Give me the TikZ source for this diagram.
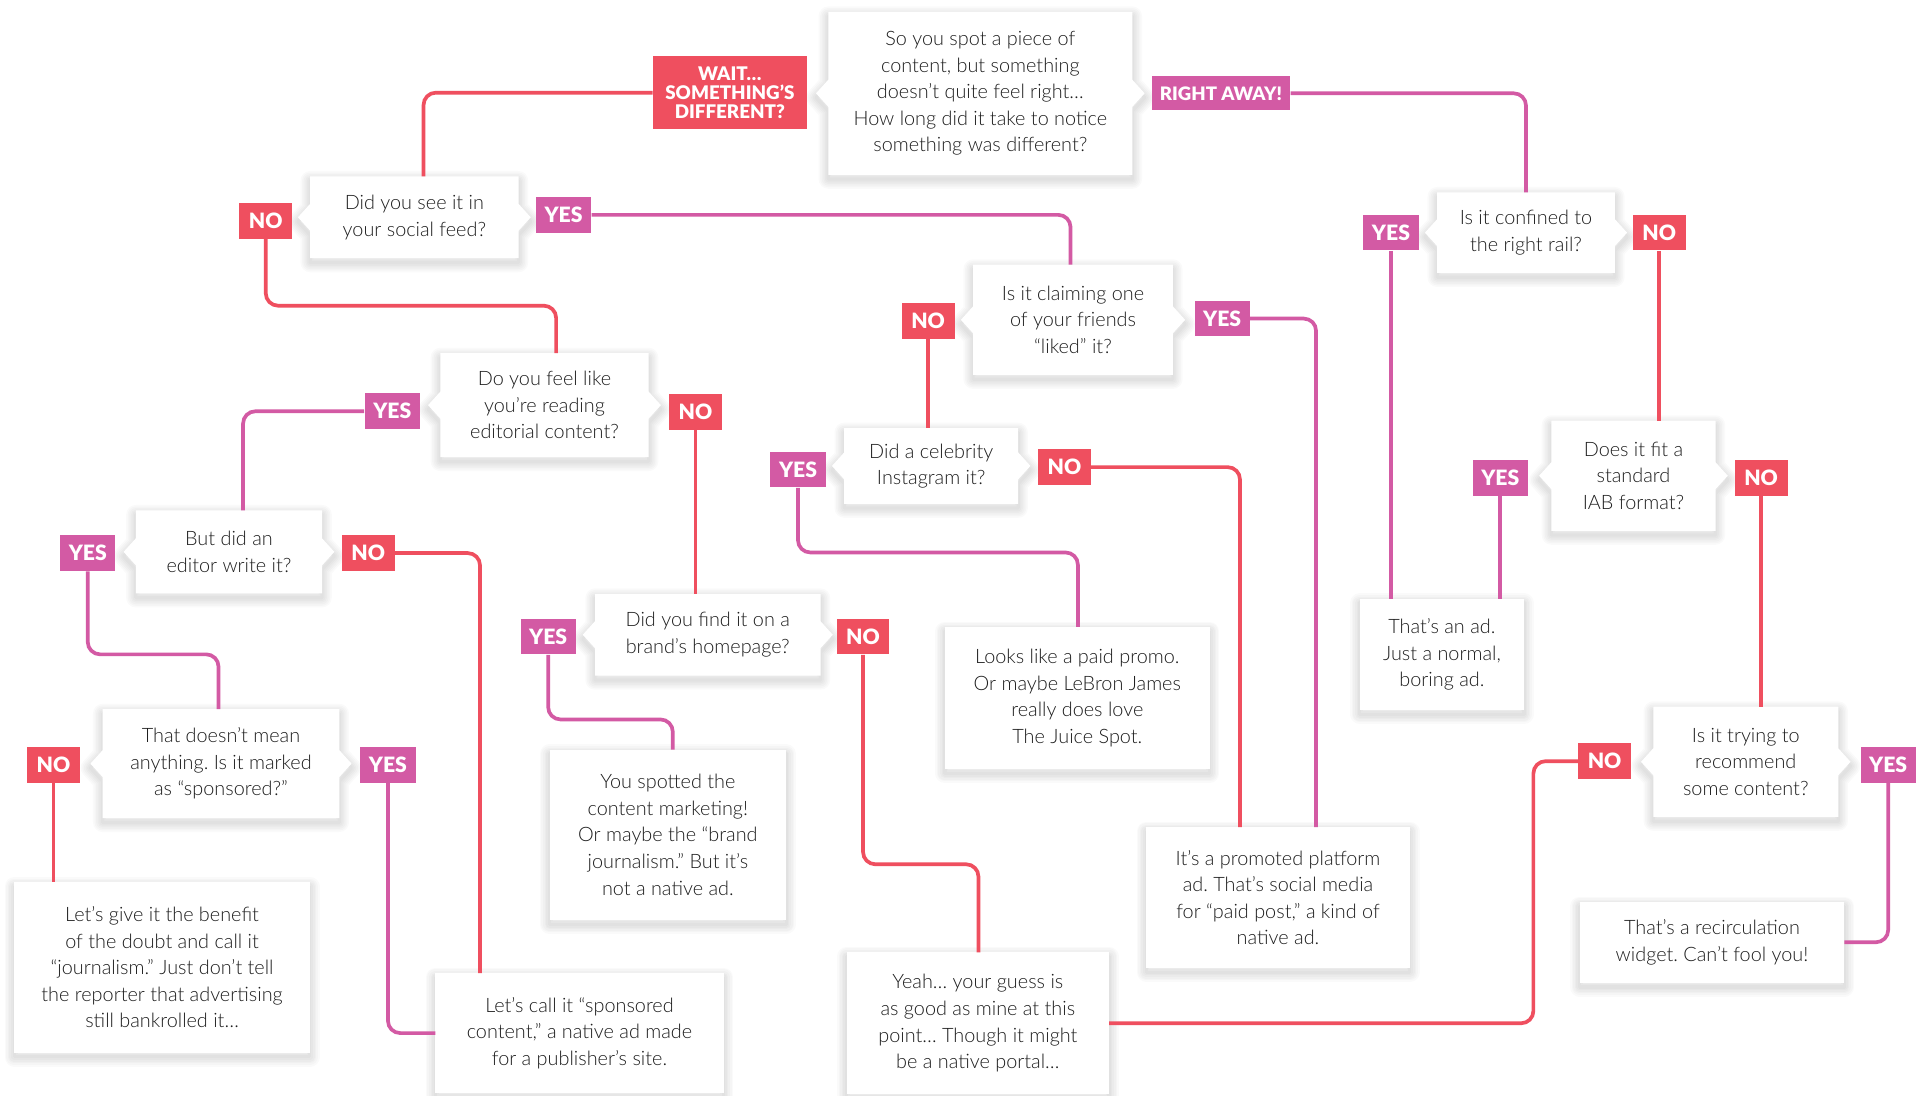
\documentclass[tikz,border=0pt]{standalone}
\usepackage{fontspec}
\IfFontExistsTF{Lato Light}{\setmainfont{Lato Light}}{\setmainfont{Lato}}
\IfFontExistsTF{Lato Black}{\newfontfamily\labfontA{Lato Black}\newcommand\labfont{\labfontA}}{\newfontfamily\labfontA{Lato}\newcommand\labfont{\labfontA\bfseries}}
\usetikzlibrary{calc}
\frenchspacing
\definecolor{nored}{HTML}{EF4F5F}
\definecolor{yesmag}{HTML}{D35AA4}
\definecolor{txt}{HTML}{1E1E1E}
\newlength\pxu \setlength\pxu{0.02cm}
\newcommand\mainsz{\fontsize{9.2pt}{12.3pt}\selectfont}
\newcommand\labsz{\labfont\fontsize{9.8pt}{10pt}\selectfont}
\newcommand\waitsz{\labfont\fontsize{8.7pt}{8.8pt}\selectfont}
\pgfdeclarelayer{bg}\pgfdeclarelayer{background}
\pgfsetlayers{bg,background,main}
\tikzset{
  sz/.style 2 args={minimum width=#1\pxu, minimum height=#2\pxu},
  qbox/.style={inner sep=0pt, align=center, text=txt, font=\mainsz},
  abox/.style={qbox},
  lab/.style={inner sep=0pt, text=white, align=center},
  nolab/.style={lab, font=\labsz, fill=nored, minimum width=43\pxu, minimum height=29\pxu},
  yeslab/.style={lab, font=\labsz, fill=yesmag, minimum width=45\pxu, minimum height=29\pxu},
  nol/.style={draw=nored, line width=3\pxu, rounded corners=10\pxu},
  yesl/.style={draw=yesmag, line width=3\pxu, rounded corners=10\pxu},
  shd/.style={draw=black, opacity=0.02, line join=round, line width=#1}
}
% notched outline of a question box, shifted vertically by #2
\newcommand\notchpath[2]{([yshift=#2]#1.north west) -- ([yshift=#2]#1.north east) -- ([yshift=#2+6.26pt]#1.east) -- ([xshift=5.69pt,yshift=#2]#1.east) -- ([yshift=#2-6.26pt]#1.east) -- ([yshift=#2]#1.south east) -- ([yshift=#2]#1.south west) -- ([yshift=#2-6.26pt]#1.west) -- ([xshift=-5.69pt,yshift=#2]#1.west) -- ([yshift=#2+6.26pt]#1.west) -- cycle}
\newcommand\rectpath[2]{([yshift=#2]#1.north west) rectangle ([yshift=#2]#1.south east)}
\newcommand\qshape[1]{%
  \foreach \w in {1.5,3,4.5,6,7.5,9} {\draw[shd=\w pt] \notchpath{#1}{-2pt};}
  \fill[white] \notchpath{#1}{0pt};}
\newcommand\rshape[1]{%
  \foreach \w in {1.5,3,4.5,6,7.5,9} {\draw[shd=\w pt] \rectpath{#1}{-2pt};}
  \fill[white] \rectpath{#1}{0pt};}
\begin{document}
\begin{tikzpicture}[x=0.02cm, y=-0.02cm]
\useasboundingbox (0,0) rectangle (1568,892);
\begin{pgfonlayer}{bg}
\fill[white] (0,0) rectangle (1568,892);
\end{pgfonlayer}
% question boxes
\node[qbox, sz={247}{132}] (q0) at (798.5,76) {So you spot a piece of\\content, but something\\doesn’t quite feel right…\\How long did it take to notice\\something was different?};
\node[qbox, sz={169}{66}] (q1) at (337.5,177) {Did you see it in\\your social feed?};
\node[qbox, sz={169}{84}] (q2) at (443.5,330) {Do you feel like\\you’re reading\\editorial content?};
\node[qbox, sz={162}{89}] (q3) at (874,260.5) {Is it claiming one\\of your friends\\“liked” it?};
\node[qbox, sz={141}{61}] (q4) at (758.5,379.5) {Did a celebrity\\Instagram it?};
\node[qbox, sz={151}{67}] (q5) at (186.5,449.5) {But did an\\editor write it?};
\node[qbox, sz={192}{88}] (q6) at (180,622) {That doesn’t mean\\anything. Is it marked\\as “sponsored?”};
\node[qbox, sz={183}{66}] (q7) at (576.5,517) {Did you find it on a\\brand’s homepage?};
\node[qbox, sz={144}{65}] (q8) at (1243,189.5) {Is it confined to\\the right rail?};
\node[qbox, sz={133}{89}] (q9) at (1330.5,387.5) {Does it fit a\\standard\\IAB format?};
\node[qbox, sz={150}{89}] (q10) at (1422,620.5) {Is it trying to\\recommend\\some content?};
% answer boxes
\node[abox, sz={215}{115}] (a1) at (877.5,568.5) {Looks like a paid promo.\\Or maybe LeBron James\\really does love\\The Juice Spot.};
\node[abox, sz={192}{138}] (a2) at (544,680) {You spotted the\\content marketing!\\Or maybe the “brand\\journalism.” But it’s\\not a native ad.};
\node[abox, sz={240}{138}] (a3) at (132,788) {Let’s give it the benefit\\of the doubt and call it\\“journalism.” Just don’t tell\\the reporter that advertising\\still bankrolled it…};
\node[abox, sz={234}{97}] (a4) at (472,841.5) {Let’s call it “sponsored\\content,” a native ad made\\for a publisher’s site.};
\node[abox, sz={213}{115}] (a5) at (796.5,833.5) {Yeah… your guess is\\as good as mine at this\\point… Though it might\\be a native portal…};
\node[abox, sz={214}{114}] (a6) at (1041,731) {It’s a promoted platform\\ad. That’s social media\\for “paid post,” a kind of\\native ad.};
\node[abox, sz={133}{90}] (a7) at (1174.5,533) {That’s an ad.\\Just a normal,\\boring ad.};
\node[abox, sz={215}{65}] (a8) at (1394.5,767.5) {That’s a recirculation\\widget. Can’t fool you!};
\begin{pgfonlayer}{background}
\foreach \q in {q0,q1,q2,q3,q4,q5,q6,q7,q8,q9,q10} {\qshape{\q}}
\foreach \a in {a1,a2,a3,a4,a5,a6,a7,a8} {\rshape{\a}}
\end{pgfonlayer}
% labels
\node[lab, font=\waitsz, fill=nored, minimum width=125\pxu, minimum height=59\pxu] (wait) at (594.5,75.5) {WAIT…\\SOMETHING’S\\DIFFERENT?};
\node[lab, font=\labfont\fontsize{8.6pt}{9pt}\selectfont, fill=yesmag, minimum width=113\pxu, minimum height=28\pxu] (right) at (994.5,76) {RIGHT AWAY!};
\node[nolab] (no1) at (216.5,180) {NO};
\node[yeslab] (yes1) at (459,175) {YES};
\node[yeslab] (yes2) at (319.5,335) {YES};
\node[nolab] (no2) at (566.5,335.5) {NO};
\node[nolab] (no3) at (756,261.5) {NO};
\node[yeslab] (yes3) at (995.5,259.5) {YES};
\node[yeslab] (yes4) at (650,382.5) {YES};
\node[nolab] (no4) at (867,380.5) {NO};
\node[yeslab] (yes5) at (71.5,450.5) {YES};
\node[nolab] (no5) at (300,450.5) {NO};
\node[nolab] (no6) at (43.5,623) {NO};
\node[yeslab] (yes6) at (316,623) {YES};
\node[yeslab] (yes7) at (446.5,518.5) {YES};
\node[nolab] (no7) at (703,518.5) {NO};
\node[yeslab] (yes8) at (1133,189.5) {YES};
\node[nolab] (no8) at (1351.5,189.5) {NO};
\node[yeslab] (yes9) at (1222,389.5) {YES};
\node[nolab] (no9) at (1434.5,389.5) {NO};
\node[nolab] (no10) at (1307,620) {NO};
\node[yeslab] (yes10) at (1538,623) {YES};
% connectors
\draw[nol] (wait.west) -| (345,0 |- q1.north);
\draw[yesl] (right.east) -| (q8.north);
\draw[yesl] (yes1.east) -| (872,0 |- q3.north);
\draw[nol] (no1.south) |- (453,249) -- (453,0 |- q2.north);
\draw[yesl] (yes2.west) -| (198,0 |- q5.north);
\draw[nol] (no2.south) -- (no2.south |- q7.north);
\draw[nol] (no3.south) -- (no3.south |- q4.north);
\draw[yesl] (yes3.east) -| (1072,0 |- a6.north);
\draw[yesl] (yes4.south) |- (878,450) -- (878,0 |- a1.north);
\draw[nol] (no4.east) -| (1010,0 |- a6.north);
\draw[yesl] (yes5.south) |- (178,533) -- (178,0 |- q6.north);
\draw[nol] (no5.east) -| (391,0 |- a4.north);
\draw[nol] (no6.south) -- (no6.south |- a3.north);
\draw[yesl] (yes6.south) |- (a4.west);
\draw[yesl] (yes7.south) |- (548,586) -- (548,0 |- a2.north);
\draw[nol] (no7.south) |- (797,704) -- (797,0 |- a5.north);
\draw[yesl] (yes8.south) -- (yes8.south |- a7.north);
\draw[yesl] (yes9.south) -- (yes9.south |- a7.north);
\draw[nol] (no8.south) -- (no8.south |- q9.north);
\draw[nol] (no9.south) -- (no9.south |- q10.north);
\draw[nol] (no10.west) -| (1249,0 |- a5.east) -- (a5.east);
\draw[yesl] (yes10.south) |- (a8.east);
\end{tikzpicture}
\end{document}
